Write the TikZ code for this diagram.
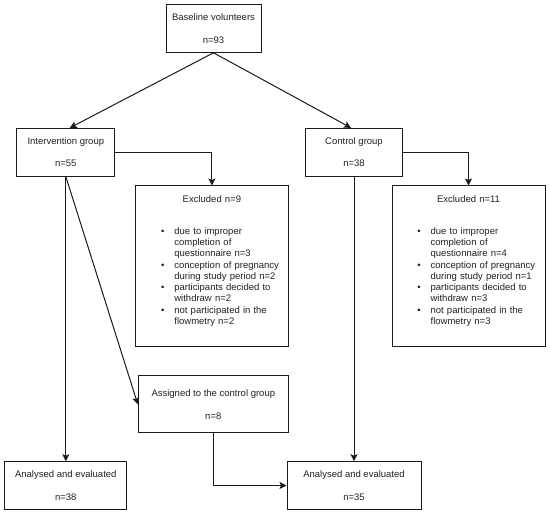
\documentclass[tikz,border=0pt]{standalone}
\usepackage{fontspec}
\setmainfont{Liberation Sans}
\usetikzlibrary{arrows.meta}
\definecolor{ink}{HTML}{1A1A1A}
\definecolor{txt}{HTML}{222222}
\begin{document}
\begin{tikzpicture}[x=1pt,y=-1pt,
  font=\fontsize{9.5}{11.25}\selectfont,
  box/.style={draw=ink, line width=1pt, rectangle, inner sep=0pt, align=center, text=txt},
  conn/.style={draw=ink, line width=1pt, -{Stealth[length=7pt,width=7pt,inset=1.5pt]}}
]
\useasboundingbox (0,0) rectangle (550,513);
\fill[white] (0,0) rectangle (550,513);

\node[box, minimum width=95pt, minimum height=47.6pt] (base) at (213.5,28.5) {Baseline volunteers\\[11.5pt]n=93};
\node[box, minimum width=98.3pt, minimum height=47.7pt] (interv) at (65.8,152.2) {Intervention group\\[11.5pt]n=55};
\node[box, minimum width=96.6pt, minimum height=47.7pt] (ctrl) at (354,152.2) {Control group\\[11.5pt]n=38};

\node[box, minimum width=152.3pt, minimum height=161pt, text width=152.3pt] (excl1) at (211.9,266.5) {Excluded n=9\\[20.75pt]%
\makebox[152.3pt][l]{\hspace*{25.3pt}\begin{tabular}[t]{@{}l@{\hspace{10pt}}l@{}}
\textbullet & due to improper\\
 & completion of\\
 & questionnaire n=3\\
\textbullet & conception of pregnancy\\
 & during study period n=2\\
\textbullet & participants decided to\\
 & withdraw n=2\\
\textbullet & not participated in the\\
 & flowmetry n=2\rule[-13pt]{0pt}{13pt}
\end{tabular}}};

\node[box, minimum width=153pt, minimum height=161pt, text width=153pt] (excl2) at (468.5,266.5) {Excluded n=11\\[20.75pt]%
\makebox[153pt][l]{\hspace*{25.3pt}\begin{tabular}[t]{@{}l@{\hspace{10pt}}l@{}}
\textbullet & due to improper\\
 & completion of\\
 & questionnaire n=4\\
\textbullet & conception of pregnancy\\
 & during study period n=1\\
\textbullet & participants decided to\\
 & withdraw n=3\\
\textbullet & not participated in the\\
 & flowmetry n=3\rule[-13pt]{0pt}{13pt}
\end{tabular}}};

\node[box, minimum width=150pt, minimum height=56.7pt] (assign) at (213.3,404.3) {Assigned to the control group\\[11.5pt]n=8};
\node[box, minimum width=122pt, minimum height=47.6pt] (an1) at (65.8,485.5) {Analysed and evaluated\\[11.5pt]n=38};
\node[box, minimum width=134pt, minimum height=47.6pt] (an2) at (354,485.5) {Analysed and evaluated\\[11.5pt]n=35};

\draw[conn] (base.south) -- ([xshift=4pt]interv.north);
\draw[conn] (base.south) -- ([xshift=-3pt]ctrl.north);
\draw[conn] (interv.east) -| (excl1.north);
\draw[conn] (ctrl.east) -| (excl2.north);
\draw[conn] (interv.south) -- (an1.north);
\draw[conn] (interv.south) -- (assign.west);
\draw[conn] (ctrl.south) -- (an2.north);
\draw[conn] (assign.south) |- (an2.west);
\end{tikzpicture}
\end{document}
